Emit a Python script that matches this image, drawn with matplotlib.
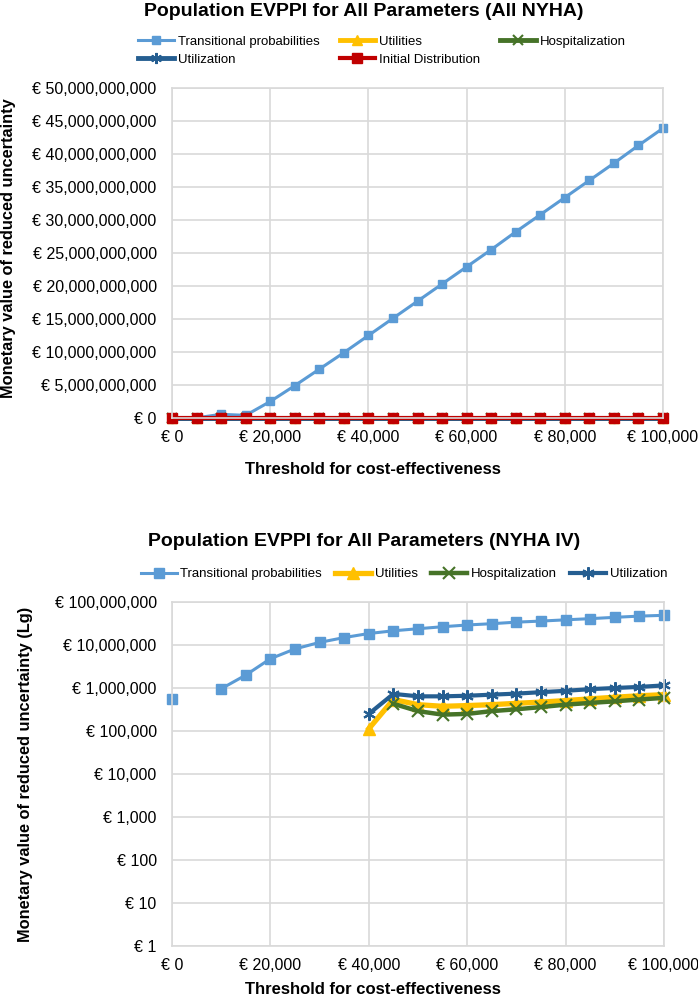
import numpy as np
import matplotlib
matplotlib.use("Agg")
from matplotlib import pyplot as plt
from matplotlib.ticker import FuncFormatter

plt.rcParams['font.family'] = ['Liberation Sans', 'DejaVu Sans']

# threshold values (x axis)
thresholds = [0, 5000, 10000, 15000, 20000, 25000, 30000, 35000, 40000, 45000, 50000,
              55000, 60000, 65000, 70000, 75000, 80000, 85000, 90000, 95000, 100000]

# top chart: All NYHA (in euro)
top_transitional = [0.0, 0.02e9, 0.56e9, 0.4e9, 2.5e9, 4.9e9, 7.4e9, 9.9e9, 12.5e9, 15.1e9, 17.7e9,
                    20.3e9, 22.9e9, 25.5e9, 28.2e9, 30.8e9, 33.4e9, 36.0e9, 38.6e9, 41.3e9, 43.9e9]
top_utilities = [0, 0, 0, 0, 0, 0, 0, 0, 0, 0, 0, 0, 0, 0, 0, 0, 0, 0, 0, 0, 0]
top_hospitalization = [0, 0, 0, 0, 0, 0, 0, 0, 0, 0, 0, 0, 0, 0, 0, 0, 0, 0, 0, 0, 0]
top_utilization = [0, 0, 0, 0, 0, 0, 0, 0, 0, 0, 0, 0, 0, 0, 0, 0, 0, 0, 0, 0, 0]
top_initial = [0, 0, 0, 0, 0, 0, 0, 0, 0, 0, 0, 0, 0, 0, 0, 0, 0, 0, 0, 0, 0]

# bottom chart: NYHA IV (log scale), nan = no value
nan = np.nan
iv_transitional = [5.5e5, nan, 9.6e5, 2.0e6, 4.8e6, 8.1e6, 1.15e7, 1.49e7, 1.85e7, 2.14e7, 2.39e7,
                   2.66e7, 2.92e7, 3.13e7, 3.4e7, 3.6e7, 3.85e7, 4.1e7, 4.4e7, 4.7e7, 4.9e7]
iv_utilities = [nan, nan, nan, nan, nan, nan, nan, nan, 1.13e5, 5.4e5, 4.1e5,
                3.75e5, 3.9e5, 4.1e5, 4.4e5, 4.7e5, 5.1e5, 5.6e5, 6.1e5, 6.6e5, 7.0e5]
iv_hospitalization = [nan, nan, nan, nan, nan, nan, nan, nan, nan, 4.3e5, 2.9e5,
                      2.4e5, 2.5e5, 2.9e5, 3.2e5, 3.6e5, 4.1e5, 4.5e5, 4.9e5, 5.4e5, 5.9e5]
iv_utilization = [nan, nan, nan, nan, nan, nan, nan, nan, 2.5e5, 7.3e5, 6.4e5,
                  6.4e5, 6.6e5, 7.0e5, 7.4e5, 8.0e5, 8.6e5, 9.4e5, 1.0e6, 1.06e6, 1.15e6]

x_ticks = [0, 20000, 40000, 60000, 80000, 100000]
top_yticks = [0, 5e9, 10e9, 15e9, 20e9, 25e9, 30e9, 35e9, 40e9, 45e9, 50e9]
iv_yticks = [1, 10, 100, 1e3, 1e4, 1e5, 1e6, 1e7, 1e8]

c_trans = '#5B9BD5'
c_util = '#FFC000'
c_hosp = '#467328'
c_utiliz = '#255E91'
c_init = '#C00000'
grid_c = '#D9D9D9'
star = (6, 2, 0)

W, H = 698, 1002
fig = plt.figure(figsize=(W / 100, H / 100), dpi=100)

euro = FuncFormatter(lambda v, _: '€ {:,.0f}'.format(v))


def style_axes(ax):
    ax.set_xlim(0, 100000)
    ax.set_xticks(x_ticks)
    ax.xaxis.set_major_formatter(euro)
    ax.yaxis.set_major_formatter(euro)
    ax.grid(True, color=grid_c, linewidth=1.2)
    ax.set_axisbelow(True)
    for s in ax.spines.values():
        s.set_color(grid_c)
        s.set_linewidth(1.2)
    ax.tick_params(length=0, labelsize=11.5, colors='black')
    ax.tick_params(axis='y', pad=11)
    ax.tick_params(axis='x', pad=9)


# ---------- top chart ----------
ax1 = fig.add_axes([172 / W, 1 - 418 / H, 491 / W, 330 / H])
l_tr, = ax1.plot(thresholds, top_transitional, color=c_trans, lw=2.2, marker='s', ms=6,
                 label='Transitional probabilities', clip_on=False)
l_ut, = ax1.plot(thresholds, top_utilities, color=c_util, lw=3.5, marker='^', ms=7,
                 label='Utilities', clip_on=False)
l_ho, = ax1.plot(thresholds, top_hospitalization, color=c_hosp, lw=3.5, marker='x', ms=7, mew=1.5,
                 label='Hospitalization', clip_on=False)
l_uz, = ax1.plot(thresholds, top_utilization, color=c_utiliz, lw=3.5, marker=star, ms=8, mew=1.5,
                 label='Utilization', clip_on=False)
l_in, = ax1.plot(thresholds, top_initial, color=c_init, lw=3, marker='s', ms=6.5,
                 label='Initial Distribution', clip_on=False)
ax1.set_ylim(0, 50e9)
ax1.set_yticks(top_yticks)
style_axes(ax1)

fig.text(364 / W, 1 - 11 / H, 'Population EVPPI for All Parameters (All NYHA)',
         ha='center', va='center', fontsize=14, fontweight='bold')
fig.legend([l_tr, l_uz, l_ut, l_in, l_ho],
           ['Transitional probabilities', 'Utilization', 'Utilities', 'Initial Distribution',
            'Hospitalization'],
           ncol=3, loc='center', bbox_to_anchor=(382 / W, 1 - 50.5 / H), frameon=False,
           fontsize=9.5, handlelength=2.7, handletextpad=0.3, columnspacing=1.5,
           labelspacing=0.45, borderpad=0)
fig.text(373 / W, 1 - 470 / H, 'Threshold for cost-effectiveness',
         ha='center', va='center', fontsize=12, fontweight='bold')
fig.text(9 / W, 1 - 248 / H, 'Monetary value of reduced uncertainty',
         ha='center', va='center', rotation=90, fontsize=11.8, fontweight='bold')

# ---------- bottom chart ----------
ax2 = fig.add_axes([172 / W, 1 - 946 / H, 492 / W, 344 / H])
b_tr, = ax2.plot(thresholds, iv_transitional, color=c_trans, lw=2.2, marker='s', ms=6.5,
                 label='Transitional probabilities', clip_on=False)
b_ut, = ax2.plot(thresholds, iv_utilities, color=c_util, lw=3.8, marker='^', ms=8,
                 label='Utilities', clip_on=False)
b_ho, = ax2.plot(thresholds, iv_hospitalization, color=c_hosp, lw=3.2, marker='x', ms=8, mew=1.5,
                 label='Hospitalization', clip_on=False)
b_uz, = ax2.plot(thresholds, iv_utilization, color=c_utiliz, lw=3.0, marker=star, ms=9, mew=1.5,
                 label='Utilization', clip_on=False)
ax2.set_yscale('log')
ax2.set_ylim(1, 1e8)
ax2.set_yticks(iv_yticks)
ax2.minorticks_off()
style_axes(ax2)
ax2.yaxis.set_minor_locator(matplotlib.ticker.NullLocator())

fig.text(364 / W, 1 - 542 / H, 'Population EVPPI for All Parameters (NYHA IV)',
         ha='center', va='center', fontsize=14, fontweight='bold')
fig.legend([b_tr, b_ut, b_ho, b_uz],
           ['Transitional probabilities', 'Utilities', 'Hospitalization', 'Utilization'],
           ncol=4, loc='center', bbox_to_anchor=(404 / W, 1 - 574 / H), frameon=False,
           fontsize=9.5, handlelength=2.7, handletextpad=0.3, columnspacing=1.0,
           borderpad=0)
fig.text(373 / W, 1 - 990 / H, 'Threshold for cost-effectiveness',
         ha='center', va='center', fontsize=12, fontweight='bold')
fig.text(26 / W, 1 - 774 / H, 'Monetary value of reduced uncertainty (Lg)',
         ha='center', va='center', rotation=90, fontsize=11.8, fontweight='bold')

fig.savefig('out.png', dpi=100)
